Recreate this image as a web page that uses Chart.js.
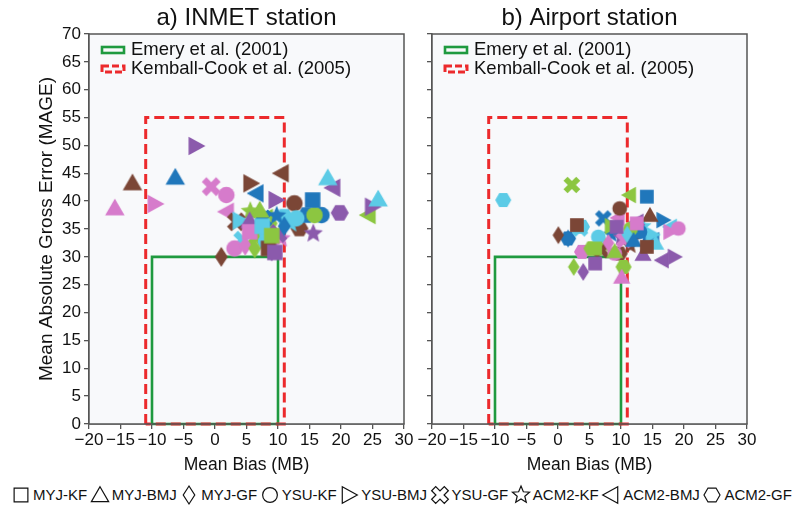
<!DOCTYPE html>
<html>
<head>
<meta charset="utf-8">
<script src="https://cdn.jsdelivr.net/npm/chart.js@4.4.1/dist/chart.umd.min.js"></script>
<style>
  body { margin: 0; background: #fff; font-family: 'Liberation Sans', Arial, sans-serif; }
  #wrap { position: relative; width: 794px; height: 508px; overflow: hidden; }
  #left { position: absolute; left: 0; top: 0; }
  #right { position: absolute; left: 415px; top: 0; }
  #legend { position: absolute; left: 0; top: 485px; width: 794px; height: 19px; box-sizing: border-box;
            padding: 0 2px 0 10px; display: flex; justify-content: space-between; align-items: center;
            font-size: 15px; color: #111; }
  #legend span { display: flex; align-items: center; white-space: nowrap; }
  #legend canvas { margin-right: 1px; }
</style>
</head>
<body>
<div id="wrap">
  <canvas id="left" width="415" height="480"></canvas>
  <canvas id="right" width="379" height="480"></canvas>
  <div id="legend"></div>
</div>
<script>
// model configurations (PBL - cumulus)
const schemes = ['MYJ-KF', 'MYJ-BMJ', 'MYJ-GF', 'YSU-KF', 'YSU-BMJ', 'YSU-GF', 'ACM2-KF', 'ACM2-BMJ', 'ACM2-GF'];
const shapes = ['square', 'triangle', 'diamond', 'circle', 'rtri', 'cross', 'star', 'ltri', 'hexagon'];

// a) INMET station : mean bias, MAGE, colour group of each point
const inmetBias = [
  [5.5, 8.5, 15.5, 7.5, 9.0, 9.5],
  [-15.9, -13.1, -6.3, 25.9, 17.9, 7.1, 5.5],
  [4.8, 1.0, 11.0, 8.0, 6.3, 9.0],
  [1.8, 3.1, 12.6, 16.9, 8.1, 12.9, 15.8],
  [-9.5, 5.7, 4.0, -3.0, 9.7, 25.0, 6.5],
  [-0.6, 3.4, 7.6, 4.4, 6.5, 10.0],
  [10.5, 12.0, 7.2, 9.8, 5.6, 15.6],
  [1.8, 10.5, 6.5, 8.0, 24.3, 18.7],
  [7.0, 13.4, 14.5, 11.0, 8.5, 19.8]
];
const inmetMAGE = [
  [34.5, 31.5, 40.2, 35.5, 33.8, 30.8],
  [38.8, 43.3, 44.3, 40.4, 44.2, 38.4, 36.5],
  [32.0, 30.0, 35.5, 34.0, 31.5, 31.0],
  [41.1, 31.5, 39.6, 37.5, 32.7, 36.9, 37.5],
  [39.5, 43.2, 36.5, 49.9, 40.2, 39.0, 35.0],
  [42.6, 36.3, 36.8, 33.0, 33.5, 34.2],
  [33.3, 36.0, 37.6, 37.4, 38.2, 34.2],
  [38.1, 45.0, 41.4, 37.0, 37.5, 42.4],
  [35.0, 35.1, 37.5, 37.2, 36.0, 37.9]
];
const inmetGroup = [
  [0, 1, 2, 3, 4, 5],
  [0, 1, 2, 3, 3, 4, 5],
  [0, 1, 2, 3, 4, 5],
  [0, 0, 1, 2, 3, 3, 4],
  [0, 1, 3, 5, 5, 5, 4],
  [0, 1, 2, 3, 4, 5],
  [0, 3, 2, 2, 4, 5],
  [0, 1, 2, 4, 4, 5],
  [0, 1, 2, 3, 4, 5]
];

// b) Airport station
const airportBias = [
  [12.5, 3.0, 14.1, 14.1, 5.9, 9.3, 5.9],
  [10.1, 14.6, 12.0, 15.5, 9.0, 13.5],
  [8.0, 0.05, 1.6, 11.0, 2.5, 4.0],
  [19.1, 9.0, 9.8, 13.0, 6.4, 11.5],
  [17.8, 12.0, 16.7, 15.0, 8.5, 18.5],
  [10.5, 6.9, 7.2, 3.5, 2.2, 12.5],
  [11.5, 14.1, 8.5, 13.5, 7.5, 10.0],
  [9.5, 15.0, 17.8, 11.3, 16.5, 12.5],
  [3.8, 9.8, 1.6, -8.7, 3.8, 10.4, 5.3]
];
const airportMAGE = [
  [36.0, 35.7, 40.8, 31.8, 31.5, 35.4, 28.8],
  [26.4, 37.5, 33.0, 32.5, 31.0, 30.5],
  [32.5, 33.9, 33.3, 34.0, 28.2, 27.3],
  [35.1, 30.6, 38.7, 34.5, 33.6, 35.0],
  [34.5, 33.5, 36.6, 34.0, 35.5, 30.0],
  [33.0, 31.2, 36.9, 35.1, 42.9, 35.0],
  [32.0, 33.6, 34.0, 35.5, 32.0, 33.5],
  [37.0, 33.0, 35.4, 41.1, 29.4, 36.3],
  [30.9, 30.6, 33.3, 40.2, 35.4, 28.2, 31.5]
];
const airportGroup = [
  [0, 1, 2, 1, 4, 5, 5],
  [0, 1, 2, 3, 4, 5],
  [0, 1, 2, 3, 4, 5],
  [0, 0, 1, 2, 3, 4],
  [0, 1, 2, 3, 4, 5],
  [0, 1, 2, 3, 4, 5],
  [1, 2, 2, 3, 4, 5],
  [0, 2, 3, 4, 5, 5],
  [0, 1, 2, 3, 3, 4, 4]
];

// performance criteria boxes
const emeryBias = [-10, 10];
const emeryMAGE = 30;
const kcBias = [-11, 11];
const kcMAGE = 55;

const xTicks = [-20, -15, -10, -5, 0, 5, 10, 15, 20, 25, 30];
const yTicks = [0, 5, 10, 15, 20, 25, 30, 35, 40, 45, 50, 55, 60, 65, 70];

const palette = ['#d67bcb', '#7b4636', '#2077bb', '#5ccbe6', '#8cc641', '#8b5aac'];
const FONT = "'Liberation Sans', Arial, sans-serif";
Chart.defaults.font.family = FONT;

function shapePath(ctx, shape, s) {
  ctx.beginPath();
  let pts = null;
  if (shape === 'circle') { ctx.arc(0, 0, s * 0.46, 0, Math.PI * 2); return; }
  if (shape === 'square') { const a = s * 0.43; pts = [[-a, -a], [a, -a], [a, a], [-a, a]]; }
  if (shape === 'triangle') pts = [[0, -s * 0.52], [s * 0.54, s * 0.42], [-s * 0.54, s * 0.42]];
  if (shape === 'diamond') pts = [[0, -s * 0.56], [s * 0.36, 0], [0, s * 0.56], [-s * 0.36, 0]];
  if (shape === 'rtri') pts = [[s * 0.52, 0], [-s * 0.42, -s * 0.52], [-s * 0.42, s * 0.52]];
  if (shape === 'ltri') pts = [[-s * 0.52, 0], [s * 0.42, -s * 0.52], [s * 0.42, s * 0.52]];
  if (shape === 'hexagon') {
    pts = [];
    for (let i = 0; i < 6; i++) { const a = i * Math.PI / 3; pts.push([Math.cos(a) * s * 0.5, Math.sin(a) * s * 0.5]); }
  }
  if (shape === 'star') {
    pts = [];
    for (let i = 0; i < 10; i++) {
      const a = -Math.PI / 2 + i * Math.PI / 5, r = i % 2 ? s * 0.25 : s * 0.56;
      pts.push([Math.cos(a) * r, Math.sin(a) * r]);
    }
  }
  if (shape === 'cross') {
    const t = s * 0.18, L = s * 0.56, c = Math.SQRT1_2;
    const raw = [[t, t], [t, L], [-t, L], [-t, t], [-L, t], [-L, -t], [-t, -t], [-t, -L], [t, -L], [t, -t], [L, -t], [L, t]];
    pts = raw.map(p => [(p[0] - p[1]) * c, (p[0] + p[1]) * c]);
  }
  pts.forEach((p, i) => i ? ctx.lineTo(p[0], p[1]) : ctx.moveTo(p[0], p[1]));
  ctx.closePath();
}

const iconCache = {};
function icon(shape, color, s, outline) {
  const key = shape + color + s + outline;
  if (iconCache[key]) return iconCache[key];
  const c = document.createElement('canvas');
  const n = Math.ceil(s * 1.2) + 2;
  c.width = n; c.height = n;
  const ctx = c.getContext('2d');
  ctx.translate(n / 2, n / 2);
  shapePath(ctx, shape, s);
  if (outline) {
    ctx.fillStyle = '#fff'; ctx.fill();
    ctx.strokeStyle = '#111'; ctx.lineWidth = 1.2; ctx.stroke();
  } else {
    ctx.fillStyle = color; ctx.fill();
  }
  iconCache[key] = c;
  return c;
}

function boxPoints(b, m) {
  return [{x: b[0], y: 0}, {x: b[0], y: m}, {x: b[1], y: m}, {x: b[1], y: 0}, {x: b[0], y: 0}];
}

function makeDatasets(bias, mage, group, size) {
  const ds = schemes.map((name, i) => ({
    label: name,
    data: bias[i].map((b, j) => ({x: b, y: mage[i][j]})),
    pointStyle: ctx => icon(shapes[i], palette[group[i][ctx.dataIndex]], size, false),
    pointRadius: size / 2,
    order: 1
  }));
  ds.push({
    label: 'Emery et al. (2001)', data: boxPoints(emeryBias, emeryMAGE), showLine: true,
    borderColor: '#1f9a3f', borderWidth: 2.6, pointRadius: 0, clip: false, order: 5
  });
  ds.push({
    label: 'Kemball-Cook et al. (2005)', data: boxPoints(kcBias, kcMAGE), showLine: true,
    borderColor: '#ec2a2c', borderWidth: 3, borderDash: [10, 5], pointRadius: 0, clip: false, order: 4
  });
  return ds;
}

const panelFrame = {
  id: 'panelFrame',
  beforeDatasetsDraw(chart) {
    const {ctx, chartArea: a} = chart;
    ctx.save();
    ctx.fillStyle = '#f8f9fb';
    ctx.fillRect(a.left, a.top, a.right - a.left, a.bottom - a.top);
    ctx.restore();
  },
  afterDraw(chart) {
    const {ctx, chartArea: a} = chart;
    const o = chart.options.plugins.panelFrame;
    ctx.save();
    ctx.strokeStyle = '#555';
    ctx.lineWidth = 1.5;
    ctx.strokeRect(a.left, a.top, a.right - a.left, a.bottom - a.top);
    // panel title
    ctx.fillStyle = '#111';
    ctx.font = '24px ' + FONT;
    ctx.textAlign = 'center';
    ctx.textBaseline = 'middle';
    ctx.fillText(o.title, (a.left + a.right) / 2, 18);
    // criteria legend
    ctx.textAlign = 'left';
    ctx.font = '18.5px ' + FONT;
    ctx.fillText('Emery et al. (2001)', a.left + 42, a.top + 16);
    ctx.fillText('Kemball-Cook et al. (2005)', a.left + 42, a.top + 35);
    ctx.lineWidth = 2.6;
    ctx.strokeStyle = '#1f9a3f';
    ctx.strokeRect(a.left + 13, a.top + 13, 22, 6);
    ctx.lineWidth = 3;
    ctx.strokeStyle = '#ec2a2c';
    ctx.setLineDash([7, 3]);
    ctx.strokeRect(a.left + 13, a.top + 32, 22, 6);
    ctx.restore();
  }
};

const fmt = v => v < 0 ? '\u2212' + Math.abs(v) : String(v);

function panelOptions(isLeft, title) {
  return {
    responsive: false,
    animation: false,
    layout: { padding: { top: 34, left: 0, bottom: 0, right: isLeft ? 11 : 47 } },
    plugins: { legend: { display: false }, tooltip: { enabled: false }, panelFrame: { title: title } },
    scales: {
      x: {
        type: 'linear', min: -20, max: 30,
        afterBuildTicks: s => { s.ticks = xTicks.map(v => ({value: v})); },
        ticks: { callback: fmt, font: { size: 17 }, color: '#111', padding: 1, maxRotation: 0, autoSkip: false },
        grid: { drawOnChartArea: false, tickLength: 5, color: '#555', lineWidth: 1.3 },
        border: { color: '#555', width: 1.5 },
        title: { display: true, text: 'Mean Bias (MB)', font: { size: 17.5 }, color: '#111', padding: { top: 0, bottom: 4 } },
        afterFit: s => { s.height = 56; }
      },
      y: {
        type: 'linear', min: 0, max: 70,
        afterBuildTicks: s => { s.ticks = yTicks.map(v => ({value: v})); },
        ticks: { display: isLeft, font: { size: 17 }, color: '#111', padding: 3, autoSkip: false },
        grid: { drawOnChartArea: false, tickLength: 5, color: '#555', lineWidth: 1.3 },
        border: { color: '#555', width: 1.5 },
        title: { display: isLeft, text: 'Mean Absolute Gross Error (MAGE)', font: { size: 19 }, color: '#111', padding: { top: 35, bottom: 0 } },
        afterFit: s => { s.width = isLeft ? 89 : 17; }
      }
    }
  };
}

new Chart(document.getElementById('left'), {
  type: 'scatter',
  data: { datasets: makeDatasets(inmetBias, inmetMAGE, inmetGroup, 18) },
  options: panelOptions(true, 'a) INMET station'),
  plugins: [panelFrame]
});

new Chart(document.getElementById('right'), {
  type: 'scatter',
  data: { datasets: makeDatasets(airportBias, airportMAGE, airportGroup, 16) },
  options: panelOptions(false, 'b) Airport station'),
  plugins: [panelFrame]
});

// shape legend below both panels
const legendEl = document.getElementById('legend');
schemes.forEach((name, i) => {
  const item = document.createElement('span');
  item.appendChild(icon(shapes[i], '#fff', 16, true));
  item.appendChild(document.createTextNode(name));
  legendEl.appendChild(item);
});
</script>
</body>
</html>
